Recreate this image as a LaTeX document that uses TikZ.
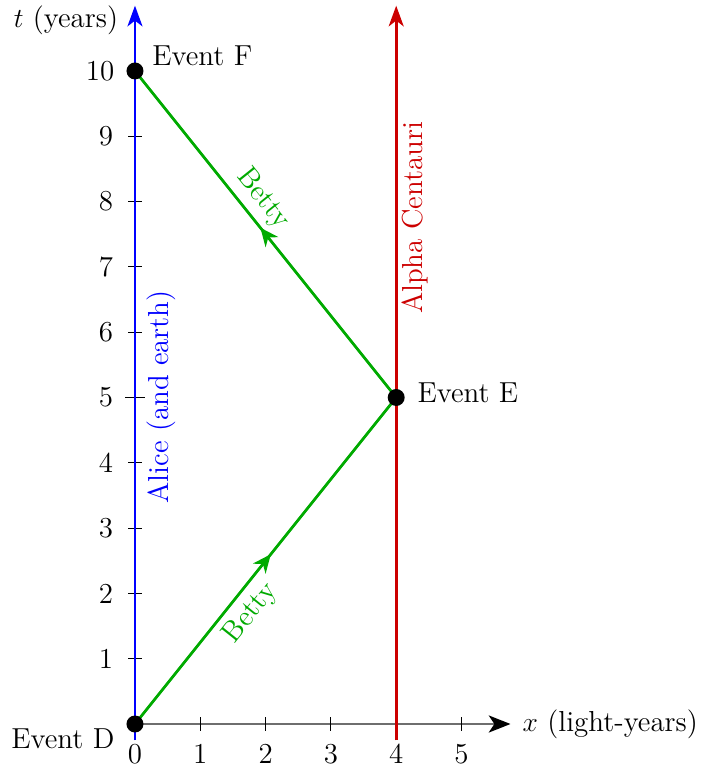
\documentclass[tikz,border=0pt]{standalone}
\usetikzlibrary{arrows.meta,decorations.markings}
\definecolor{bettygreen}{RGB}{0,170,0}
\definecolor{acred}{RGB}{204,0,0}
\definecolor{axisgray}{RGB}{110,110,110}
\tikzset{
  worldline/.style={line width=1.2pt},
  endtip/.style={-{Stealth[length=9pt,width=6.5pt,inset=2.5pt]}},
  midarrow/.style={postaction={decorate},decoration={markings,
     mark=at position 0.52 with {\arrow{Stealth[length=8pt,width=7pt,inset=2.5pt]}}}},
  eventdot/.style={circle,fill=black,inner sep=0pt,minimum size=0.26cm},
  lbl/.style={inner sep=0pt},
  tickmark/.style={line width=0.5pt,black},
}
\begin{document}
\begin{tikzpicture}[font=\fontsize{12.6}{15}\selectfont]
\useasboundingbox (-2.067,-0.643) rectangle (8.729,11.087);

% coordinates
\coordinate (D) at (0,0);
\coordinate (E) at (4,5);
\coordinate (F) at (0,10);
\coordinate (Abot) at (0,-0.25);
\coordinate (Atop) at (0,11);
\coordinate (Cbot) at (4,-0.25);
\coordinate (Ctop) at (4,11);
\coordinate (Xend) at (5.75,0);

% x axis
\draw[axisgray,line width=0.6pt,-{Stealth[black,length=9.5pt,width=7.5pt,inset=2.5pt]}] (D) -- (Xend);
\foreach \x in {1,...,5} \draw[tickmark] (\x,-0.1) -- (\x,0.1);
\foreach \x in {0,...,5} \node[lbl] (xl\x) at (\x,-0.46) {\x};
\node[lbl,anchor=west] (xlabel) at (5.93,0.0) {$x$ (light-years)};

% y ticks
\foreach \y in {1,...,4,6,7,8,9,10} \draw[tickmark] (-0.1,\y) -- (0.1,\y);
\draw[tickmark] (-0.15,5) -- (0.15,5);
\foreach \y in {1,...,9} \node[lbl,anchor=east] (yl\y) at (-0.33,\y) {\y};
\node[lbl,anchor=east] (yl10) at (-0.31,10) {10};
\node[lbl] (ylabel) at (-1.057,10.78) {$t$ (years)};

% world lines
\draw[worldline,blue,endtip] (Abot) -- (Atop);
\draw[worldline,acred,endtip] (Cbot) -- (Ctop);
\draw[worldline,bettygreen,midarrow] (D) -- (E);
\draw[worldline,bettygreen,midarrow] (E) -- (F);

% labels on lines
\node[lbl,blue,rotate=90] (alice) at (0.41,5.01) {Alice (and earth)};
\node[lbl,acred,rotate=90] (alpha) at (4.29,7.75) {Alpha Centauri};
\node[lbl,bettygreen,rotate=-51.34] (betty2) at (1.96,8.04) {Betty};
\node[lbl,bettygreen,rotate=51.34] (betty1) at (1.77,1.70) {Betty};

% events
\node[eventdot] (Ddot) at (D) {};
\node[eventdot] (Edot) at (E) {};
\node[eventdot] (Fdot) at (F) {};
\node[lbl,anchor=west] (Elabel) at (4.32,5.07) {Event E};
\node[lbl,anchor=west] (Flabel) at (0.26,10.23) {Event F};
\node[lbl,anchor=west] (Dlabel) at (-1.9,-0.23) {Event D};
\end{tikzpicture}
\end{document}
